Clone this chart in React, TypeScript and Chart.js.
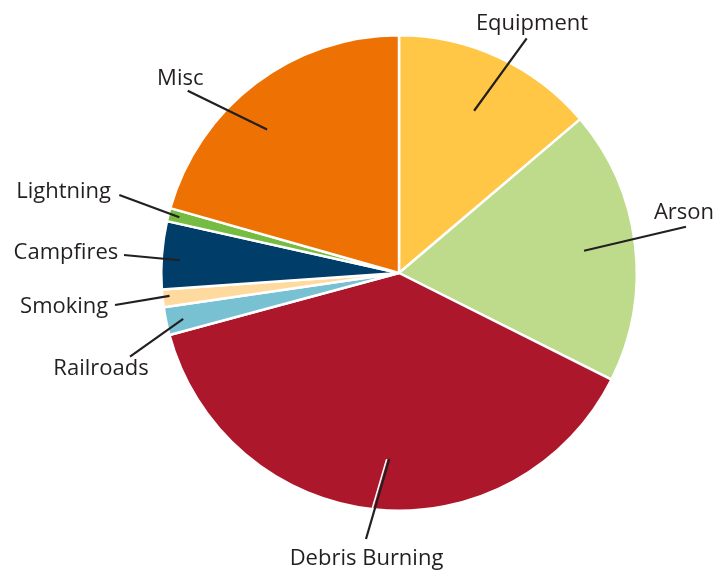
import React, { useEffect, useRef } from "react";
import { Chart, registerables } from "chart.js";

Chart.register(...registerables);

const categories = ["Equipment", "Arson", "Debris Burning", "Railroads", "Smoking", "Campfires", "Lightning", "Misc"];
const shares = [13.8, 18.6, 38.4, 1.9, 1.2, 4.6, 0.9, 20.6];
const colors = ["#FFC745", "#BEDB8C", "#AD172B", "#78C1D3", "#FFDA9F", "#003D69", "#76BC43", "#EE7203"];

// label layout: where on the slice the leader starts (fraction of slice angle, fraction of radius),
// where the leader ends (offset from pie centre), and where the text sits (offset from pie centre)
const labelLayout = [
  { at: 0.5, rf: 0.752, end: [127.7, -234.7], text: [133, -243], align: "center", halo: false },
  { at: 0.5, rf: 0.784, end: [287, -46.3], text: [285, -53.7], align: "center", halo: false },
  { at: 0.48, rf: 0.784, end: [-33, 266], text: [-32.5, 292], align: "center", halo: true },
  { at: 0.46, rf: 0.928, end: [-269, 83.7], text: [-298, 102], align: "center", halo: false },
  { at: 0.6, rf: 0.97, end: [-284, 32], text: [-290.7, 40.3], align: "right", halo: false },
  { at: 0.44, rf: 0.924, end: [-275, -18], text: [-280.7, -13.7], align: "right", halo: false },
  { at: 0.5, rf: 0.953, end: [-279.7, -78], text: [-288, -74.7], align: "right", halo: false },
  { at: 0.4256, rf: 0.82, end: [-211.3, -182.3], text: [-218.7, -188], align: "center", halo: false },
];

const labelPlugin = {
  id: "leaderLabels",
  afterDatasetsDraw(chart: any) {
    const ctx = chart.ctx;
    const meta = chart.getDatasetMeta(0);
    ctx.save();
    meta.data.forEach((arc: any, i: number) => {
      const L = labelLayout[i];
      const { x, y, startAngle, endAngle, outerRadius } = arc.getProps(["x", "y", "startAngle", "endAngle", "outerRadius"], true);
      const a = startAngle + (endAngle - startAngle) * L.at;
      const r = outerRadius * L.rf;
      const sx = x + r * Math.cos(a);
      const sy = y + r * Math.sin(a);
      const ex = x + L.end[0];
      const ey = y + L.end[1];
      ctx.lineCap = "butt";
      if (L.halo) {
        ctx.strokeStyle = "#ffffff";
        ctx.lineWidth = 1.6;
        ctx.beginPath();
        ctx.moveTo(sx - 2.6, sy);
        ctx.lineTo(ex - 2.6, ey);
        ctx.stroke();
      }
      ctx.strokeStyle = "#231F20";
      ctx.lineWidth = 2.2;
      ctx.beginPath();
      ctx.moveTo(sx, sy);
      ctx.lineTo(ex, ey);
      ctx.stroke();
      ctx.fillStyle = "#231F20";
      ctx.font = "22px 'Open Sans'";
      ctx.textAlign = L.align;
      ctx.textBaseline = "alphabetic";
      ctx.fillText(categories[i], x + L.text[0], y + L.text[1]);
    });
    ctx.restore();
  },
};

export default function App() {
  const ref = useRef<HTMLCanvasElement | null>(null);
  useEffect(() => {
    if (!ref.current) return;
    const chart = new Chart(ref.current, {
      type: "pie",
      data: {
        labels: categories,
        datasets: [
          {
            data: shares,
            backgroundColor: colors,
            borderColor: "#ffffff",
            borderWidth: 2.5,
          },
        ],
      },
      options: {
        responsive: false,
        animation: false,
        layout: { padding: { left: 160, right: 78, top: 34, bottom: 58 } },
        plugins: {
          legend: { display: false },
          tooltip: { enabled: false },
          title: { display: false },
        },
      },
      plugins: [labelPlugin],
    });
    return () => chart.destroy();
  }, []);
  return (
    <div style={{ position: "fixed", left: 0, top: 0, width: 716, height: 570, background: "#ffffff" }}>
      <canvas ref={ref} width={716} height={570} />
    </div>
  );
}
